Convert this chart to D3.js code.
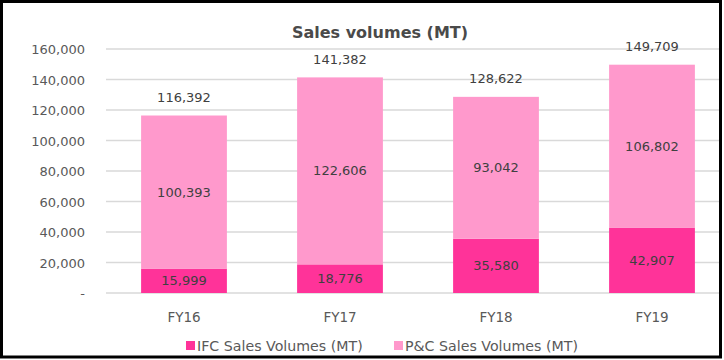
<!DOCTYPE html>
<html><head><meta charset="utf-8">
<script src="https://cdn.jsdelivr.net/npm/d3@7"></script>
<style>
body{margin:0;background:#fff;}
svg{display:block;}
text{font-family:"DejaVu Sans",Verdana,sans-serif;}
</style></head>
<body>
<svg id="c" width="724" height="360"></svg>
<script>
const categories = ["FY16","FY17","FY18","FY19"];
const ifc = [15999, 18776, 35580, 42907];
const pc = [100393, 122606, 93042, 106802];
const totals = [116392, 141382, 128622, 149709];
const yTicks = [0,20000,40000,60000,80000,100000,120000,140000,160000];
const seriesNames = ["IFC Sales Volumes (MT)","P&C Sales Volumes (MT)"];
const colors = ["#ff3399","#ff99cc"];

const svg = d3.select("#c");
const W=724,H=360;
svg.append("rect").attr("x",0).attr("y",0).attr("width",W).attr("height",H).attr("fill","#fff");

const x = d3.scaleBand().domain(categories).range([106,730]).paddingInner(0.45).paddingOuter(0.225);
const y = d3.scaleLinear().domain([0,160000]).range([293,49]);
const fmt = d3.format(",");

// gridlines
svg.append("g").selectAll("line").data(yTicks).join("line")
  .attr("x1",106).attr("x2",721)
  .attr("y1",d=>y(d)).attr("y2",d=>y(d))
  .attr("stroke","#d9d9d9").attr("stroke-width",1.3);

// y labels
const yAxis = d3.axisLeft(y).tickValues(yTicks).tickSize(0).tickPadding(0)
  .tickFormat(d=>d===0?"-":fmt(d));
const ga = svg.append("g").attr("transform","translate(85,0)").call(yAxis);
ga.select(".domain").remove();
ga.selectAll("text").attr("font-size",13).attr("fill","#595959").attr("font-family","DejaVu Sans").attr("dy","0.35em");

// x labels
const xAxis = d3.axisBottom(x).tickSize(0).tickPadding(0);
const gx = svg.append("g").attr("transform","translate(0,312)").call(xAxis);
gx.select(".domain").remove();
gx.selectAll("text").attr("font-size",13.5).attr("fill","#595959").attr("font-family","DejaVu Sans");

const data = categories.map((c,i)=>({c, ifc:ifc[i], pc:pc[i], total:totals[i]}));
const stack = d3.stack().keys(["ifc","pc"])(data);

svg.append("g").selectAll("g").data(stack).join("g")
  .attr("fill",(d,i)=>colors[i])
  .selectAll("rect").data(d=>d).join("rect")
  .attr("x",d=>x(d.data.c)).attr("width",x.bandwidth())
  .attr("y",d=>y(d[1])).attr("height",d=>y(d[0])-y(d[1]));

// segment labels
stack.forEach(s=>{
  svg.append("g").selectAll("text").data(s).join("text")
    .attr("x",d=>x(d.data.c)+x.bandwidth()/2)
    .attr("y",d=>(y(d[0])+y(d[1]))/2)
    .attr("dy","0.35em").attr("text-anchor","middle")
    .attr("font-size",13).attr("fill","#404040")
    .text(d=>fmt(d[1]-d[0]));
});

// totals
svg.append("g").selectAll("text").data(data).join("text")
  .attr("x",d=>x(d.c)+x.bandwidth()/2)
  .attr("y",d=>y(d.total)-18)
  .attr("dy","0.35em").attr("text-anchor","middle")
  .attr("font-size",13).attr("fill","#404040")
  .text(d=>fmt(d.total));

// title
svg.append("text").attr("x",380).attr("y",38).attr("text-anchor","middle")
  .attr("font-size",16).attr("font-weight","bold").attr("fill","#4a4a4a")
  .text("Sales volumes (MT)");

// legend
const legX=[186,394];
seriesNames.forEach((n,i)=>{
  svg.append("rect").attr("x",legX[i]).attr("y",341).attr("width",9).attr("height",9).attr("fill",colors[i]);
  svg.append("text").attr("x",legX[i]+11).attr("y",350.5).attr("font-size",14.2).attr("fill","#595959").text(n);
});

// border
svg.append("rect").attr("x",1.5).attr("y",1.5).attr("width",W-5).attr("height",H-4.5)
  .attr("fill","none").attr("stroke","#000").attr("stroke-width",3);
</script>
</body></html>
